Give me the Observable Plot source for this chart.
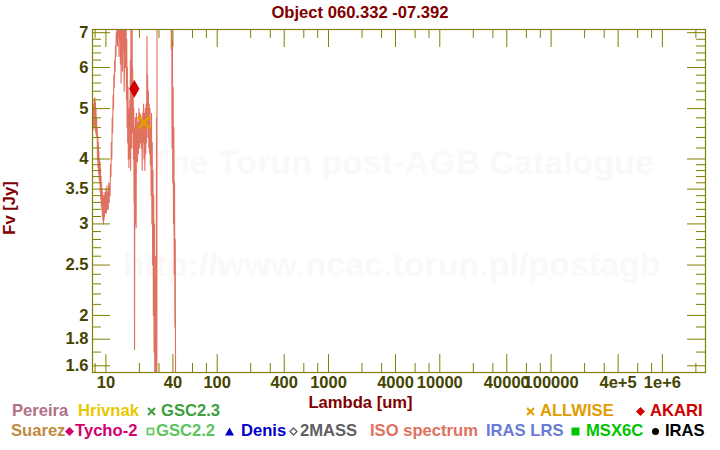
<!DOCTYPE html>
<html><head><meta charset="utf-8">
<script src="https://cdn.jsdelivr.net/npm/d3@7"></script>
<script src="https://cdn.jsdelivr.net/npm/@observablehq/plot@0.6"></script>
<style>
body{margin:0;background:#fff;}
#wrap{position:relative;width:720px;height:450px;overflow:hidden;font-family:"Liberation Sans",Arial,sans-serif;font-weight:bold;}
#wrap svg{position:absolute;left:0;top:0;}
.t{position:absolute;white-space:nowrap;font-size:16.6px;line-height:16px;}
.sym{position:absolute;}
</style></head><body><div id="wrap"></div>
<script>
// ---- data ----
const titleText = "Object 060.332 -07.392";
const xTitle = "Lambda [um]";
const yTitle = "Fv [Jy]";
const watermark = ["The Torun post-AGB Catalogue", "http://www.ncac.torun.pl/postagb"];

// ISO spectrum (wavelength in um, flux in Jy)
const isoWave = [7.6,7.65,7.7,7.75,7.8,7.85,7.9,7.95,8.0,8.05,8.1,8.15,8.2,8.25,8.3,
8.35,8.4,8.45,8.5,8.55,8.6,8.65,8.7,8.75,8.8,8.85,
8.9,8.95,9.0,9.05,9.1,9.15,9.2,9.25,9.3,9.35,9.4,9.45,9.5,9.55,9.6,9.65,
9.7,9.8,9.9,10.0,10.1,10.2,10.3,10.4,10.5,10.6,10.7,10.8,
10.9,11.0,11.1,11.2,11.3,11.4,11.5,
11.6,11.7,11.8,11.9,12.0,12.1,12.2,12.3,12.4,12.5,
12.6,12.7,12.8,12.9,13.0,13.1,13.2,13.3,13.4,13.5,13.6,13.7,13.8,13.9,14.0,14.1,14.2,14.3,14.4,14.6,14.8,15.0,15.2,
15.3,15.4,15.5,15.6,15.7,15.8,15.9,16.0,16.1,16.2,16.3,16.4,
16.5,16.6,16.7,16.8,16.9,17.0,17.1,17.2,17.3,17.4,17.5,17.6,
17.7,17.8,17.9,18.0,18.1,18.2,18.3,18.4,18.5,18.6,18.7,18.8,
18.9,19.0,19.2,19.4,19.6,19.8,20.0,20.2,20.4,20.6,20.8,21.0,21.2,21.4,21.6,
21.8,22.0,22.2,22.4,22.6,22.8,23.0,
23.2,23.4,23.5,23.7,23.9,24.1,24.3,24.5,24.7,24.9,25.1,
25.3,25.5,25.7,25.9,26.1,26.3,26.5,26.7,26.9,27.1,27.3,27.5,27.7,27.9,28.1,28.3,28.5,28.7,28.8,
32,36,38.5,
38.7,39.0,39.3,39.6,39.9,40.2,40.5,40.8,41.1,41.4,41.7,42.0,42.3];
const isoFlux = [4.8,5.0,4.6,5.1,4.55,5.2,4.7,5.25,4.6,5.15,4.5,5.0,4.45,4.8,4.4,
4.6,4.0,4.45,3.85,4.3,3.75,4.15,3.65,4.0,3.6,3.95,
3.45,3.85,3.35,3.7,3.25,3.6,3.2,3.5,3.1,3.45,3.05,3.4,3.0,3.35,3.05,3.4,
3.1,3.45,3.15,3.5,3.15,3.55,3.2,3.45,3.2,3.6,3.3,3.55,
3.4,3.9,3.7,4.3,4.0,4.8,4.5,
5.3,5.0,5.8,5.5,6.2,5.9,6.6,6.3,7.0,6.7,
7.6,6.6,7.8,6.9,8.0,6.3,7.6,6.8,7.9,6.1,7.4,5.6,7.2,6.4,7.8,5.9,7.5,6.5,7.9,5.4,7.3,6.0,7.6,
5.2,6.8,4.6,6.0,4.3,5.5,4.0,5.0,3.85,4.8,4.1,5.2,
4.0,6.2,3.8,7.3,4.6,6.5,4.2,7.2,5.0,6.0,4.5,5.6,
4.0,5.0,3.3,4.6,1.72,4.2,3.0,4.8,3.6,4.4,2.95,4.9,
4.0,4.8,3.95,4.7,4.1,5.0,4.2,4.9,4.3,4.85,4.2,4.75,3.8,4.9,4.3,
5.1,4.0,4.9,3.8,5.0,4.1,5.1,
4.3,6.9,4.6,5.8,4.4,5.4,4.2,5.1,4.1,5.0,3.9,
4.6,3.4,4.9,3.0,4.3,2.5,3.8,2.0,3.4,1.7,3.0,1.45,2.6,1.4,2.2,1.4,4.8,1.4,9,
9.5,9,9,
6.5,8.5,4.2,6.8,3.6,5.5,3.0,4.6,2.4,3.6,1.9,2.8,1.4];

// photometry
const photName = ["AKARI", "ALLWISE"];
const photWave = [18, 22];
const photFlux = [5.46, 4.70];

// ticks
const xTickValues = [10,40,100,400,1000,4000,10000,40000,100000,400000,1000000];
const xTickLabels = ["10","40","100","400","1000","4000","10000","40000","100000","4e+5","1e+6"];
const xMinorTicks = [8,20,30,60,80,200,300,600,800,2000,3000,6000,8000,20000,30000,60000,80000,200000,300000,600000,800000,2000000];
const yTickValues = [1.6,1.8,2,2.5,3,3.5,4,5,6,7];
const yTickLabels = ["1.6","1.8","2","2.5","3","3.5","4","5","6","7"];
const yMinorTicks = [1.7,1.9,2.1,2.2,2.3,2.4,2.6,2.7,2.8,2.9,3.1,3.2,3.3,3.4,3.6,3.7,3.8,3.9,4.2,4.4,4.6,4.8,5.2,5.4,5.6,5.8,6.2,6.4,6.6,6.8];

// legend
const legendNames  = ["Pereira","Hrivnak","GSC2.3","ALLWISE","AKARI","Suarez","Tycho-2","GSC2.2","Denis","2MASS","ISO spectrum","IRAS LRS","MSX6C","IRAS"];
const legendColors = ["#b07088","#e8c800","#3ca03c","#e09c00","#d00000","#c08a40","#d0006f","#5cc45c","#0000cc","#606060","#e07060","#6a7ad8","#00c400","#000000"];
const legendSymbols= [null,null,"times","times","diamond",null,"diamond","square-open","triangle","diamond-open",null,null,"square","circle"];
</script>
<script>
// ---- layout ----
const W = 720, H = 450, mT = 29, mB = 78, mL = 92, mR = 15;
const innerH = H - mT - mB, innerW = W - mL - mR;
const olive = "#808000", labelCol = "#444400", titleCol = "#800000";
const longT = 18, shortT = 9;

const iso = isoWave.map((w, i) => ({w, f: isoFlux[i]}));
const phot = photWave.map((w, i) => ({name: photName[i], w, f: photFlux[i]}));
const xTicks = xTickValues.map((v, i) => ({v, label: xTickLabels[i]}));
const yTicks = yTickValues.map((v, i) => ({v, label: yTickLabels[i]}));

const chart = Plot.plot({
  width: W, height: H, marginTop: mT, marginBottom: mB, marginLeft: mL, marginRight: mR,
  x: {type: "log", domain: [7.58, 2.44e6], axis: null},
  y: {type: "log", domain: [1.553, 7.10], axis: null},
  style: {background: "transparent", fontFamily: "Liberation Sans, Arial, sans-serif", overflow: "visible"},
  marks: [
    Plot.text([watermark[0]], {text: d => d, frameAnchor: "top", dx: 2, dy: 134, fontSize: 34, fontWeight: "bold", fill: "#fbf9f7", lineAnchor: "middle"}),
    Plot.text([watermark[1]], {text: d => d, frameAnchor: "top", dx: -7, dy: 236, fontSize: 34, fontWeight: "bold", fill: "#fbf9f7", lineAnchor: "middle"}),
    Plot.line(iso, {x: "w", y: "f", stroke: "#e07060", strokeWidth: 1.1, clip: true}),
    Plot.dot(phot.filter(d => d.name === "AKARI"), {x: "w", y: "f", symbol: "diamond", r: 4.5, fill: "#d00000", stroke: "#d00000"}),
    Plot.dot(phot.filter(d => d.name === "ALLWISE"), {x: "w", y: "f", symbol: "times", r: 5.5, stroke: "#e09c00", strokeWidth: 3}),
    // x ticks (bottom & top, inward)
    Plot.ruleX(xTickValues, {stroke: olive, insetTop: innerH - longT}),
    Plot.ruleX(xTickValues, {stroke: olive, insetBottom: innerH - longT}),
    Plot.ruleX(xMinorTicks, {stroke: olive, insetTop: innerH - shortT}),
    Plot.ruleX(xMinorTicks, {stroke: olive, insetBottom: innerH - shortT}),
    // y ticks (left & right, inward)
    Plot.ruleY(yTickValues, {stroke: olive, insetRight: innerW - longT}),
    Plot.ruleY(yTickValues, {stroke: olive, insetLeft: innerW - longT}),
    Plot.ruleY(yMinorTicks, {stroke: olive, insetRight: innerW - shortT}),
    Plot.ruleY(yMinorTicks, {stroke: olive, insetLeft: innerW - shortT}),
    Plot.frame({stroke: olive, strokeWidth: 1.2}),
    // tick labels
    Plot.text(xTicks, {x: "v", text: "label", frameAnchor: "bottom", lineAnchor: "top", dy: 4, fontSize: 16.5, fontWeight: "bold", fill: labelCol}),
    Plot.text(yTicks, {y: "v", text: "label", frameAnchor: "left", textAnchor: "end", dx: -4, fontSize: 16.5, fontWeight: "bold", fill: labelCol})
  ]
});

const wrap = document.getElementById("wrap");
wrap.appendChild(chart);

function addText(txt, css, color) {
  const d = document.createElement("div");
  d.className = "t";
  d.textContent = txt;
  d.style.color = color;
  Object.assign(d.style, css);
  wrap.appendChild(d);
  return d;
}
addText(titleText, {left: "0px", width: W + "px", textAlign: "center", top: "5px"}, titleCol);
addText(xTitle, {left: "0px", width: "721px", textAlign: "center", top: "395px"}, titleCol);
addText(yTitle, {left: "10px", top: "208px", transform: "translate(-50%,-50%) rotate(-90deg)"}, titleCol);

// legend layout: [row top, text left, symbol centre x]
const legendLayout = [
  [403, 12, null], [403, 78, null], [403, 161, 151], [403, 540, 530], [403, 650, 640],
  [423, 11, null], [423, 75, 69], [423, 156, 150], [423, 241, 229], [423, 300, 293],
  [423, 370, null], [423, 486, null], [423, 586, 575], [423, 665, 655]
];
const symPaths = {
  "times": (c) => `<path d="M1,1L8,8M8,1L1,8" stroke="${c}" stroke-width="2" fill="none"/>`,
  "diamond": (c) => `<path d="M4.5,0L9,4.5L4.5,9L0,4.5Z" fill="${c}"/>`,
  "diamond-open": (c) => `<path d="M4.5,1L8,4.5L4.5,8L1,4.5Z" fill="none" stroke="${c}" stroke-width="1.3"/>`,
  "square-open": (c) => `<rect x="1.5" y="1.5" width="6" height="6" fill="none" stroke="${c}" stroke-width="1.6"/>`,
  "square": (c) => `<rect x="0.5" y="0.5" width="8" height="8" fill="${c}"/>`,
  "triangle": (c) => `<path d="M4.5,0.5L9,8.5L0,8.5Z" fill="${c}"/>`,
  "circle": (c) => `<circle cx="4.5" cy="4.5" r="3.5" fill="${c}"/>`
};
legendNames.forEach((name, i) => {
  const [top, left, sx] = legendLayout[i];
  const c = legendColors[i];
  addText(name, {left: left + "px", top: top + "px"}, c);
  const s = legendSymbols[i];
  if (s) {
    const d = document.createElement("div");
    d.className = "sym";
    d.style.left = (sx - 4.5) + "px";
    d.style.top = (top + 8 - 4.5) + "px";
    d.innerHTML = `<svg width="9" height="9" viewBox="0 0 9 9" style="position:static;display:block">${symPaths[s](c)}</svg>`;
    wrap.appendChild(d);
  }
});
</script>
</body></html>
